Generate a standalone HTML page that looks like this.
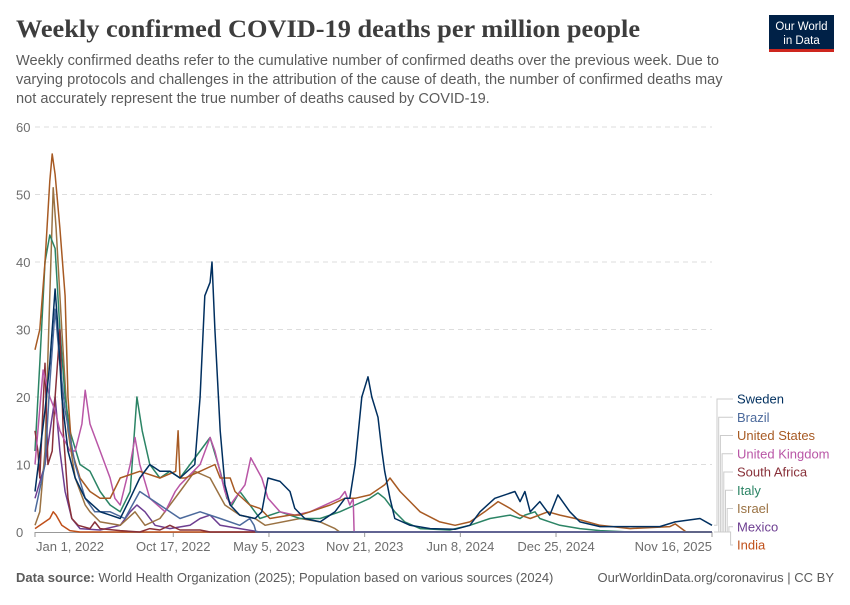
<!DOCTYPE html>
<html><head><meta charset="utf-8"><style>
body{margin:0;background:#fff;width:850px;height:600px;overflow:hidden;font-family:"Liberation Sans",sans-serif}
</style></head><body>
<svg id="c" width="850" height="600" viewBox="0 0 850 600" xmlns="http://www.w3.org/2000/svg">
<text x="16" y="37" font-family="Liberation Serif,serif" font-weight="bold" font-size="25" fill="#3d3d3d" textLength="624" lengthAdjust="spacingAndGlyphs">Weekly confirmed COVID-19 deaths per million people</text>
<g font-size="14.6" fill="#5b5b5b">
<text x="16" y="65">Weekly confirmed deaths refer to the cumulative number of confirmed deaths over the previous week. Due to</text>
<text x="16" y="84">varying protocols and challenges in the attribution of the cause of death, the number of confirmed deaths may</text>
<text x="16" y="103">not accurately represent the true number of deaths caused by COVID-19.</text>
</g>
<g><rect x="769" y="15" width="65" height="36" fill="#002147"/><rect x="769" y="49" width="65" height="3" fill="#ce261e"/>
<text x="801.5" y="30" text-anchor="middle" font-size="11.5" fill="#fff">Our World</text><text x="801.5" y="44" text-anchor="middle" font-size="11.5" fill="#fff">in Data</text></g>
<g id="grid"></g><g id="xaxis"></g><g id="series"></g><g id="legend"></g>
<text x="16" y="582" font-size="13" fill="#5b5b5b"><tspan font-weight="bold">Data source:</tspan> World Health Organization (2025); Population based on various sources (2024)</text>
<text x="834" y="582" text-anchor="end" font-size="13" fill="#5b5b5b">OurWorldinData.org/coronavirus | CC BY</text>
</svg>
<script>
const yTicks=[0,10,20,30,40,50,60];
const xTickDays=[0,289,489,689,889,1089,1415];
const xTickLabels=["Jan 1, 2022","Oct 17, 2022","May 5, 2023","Nov 21, 2023","Jun 8, 2024","Dec 25, 2024","Nov 16, 2025"];
const seriesNames=["India","Mexico","Israel","Italy","South Africa","United Kingdom","United States","Brazil","Sweden"];
const seriesColors=["#c0501a","#6d3e91","#9a7243","#2b8465","#883039","#b956a6","#a75a23","#4c6a9c","#002f5f"];
const indiaDays=[0,31,38,44,56,73,94,1415];
const indiaVals=[0.5,2,3,2.5,1,0.2,0,0];
const mexicoDays=[0,21,42,52,63,77,94,136,178,199,213,230,251,282,324,345,366,387,428,470,1415];
const mexicoVals=[5,10,20,12,6,2,0.5,0.3,1,3,4,3,1,0.5,1,2,2.5,1,0.5,0,0];
const israelDays=[0,10,21,31,38,44,56,69,84,105,115,136,178,209,230,261,303,334,366,397,428,460,481,554,596,627,637,1415];
const israelVals=[1,3,12,35,51,45,30,15,8,4,3,1.5,1,3,1,2,6,9,8,4,2.5,2,1,2,1.5,0.5,0,0];
const italyDays=[0,10,21,31,42,52,63,73,94,115,136,157,178,199,213,224,240,261,282,303,324,345,366,387,401,412,428,439,470,512,554,596,637,669,700,717,731,752,773,805,867,909,951,993,1014,1024,1045,1055,1076,1097,1139,1181,1244,1415];
const italyVals=[12,25,40,44,42,30,20,15,10,9,6,4,3,6,20,15,10,8,9,8,10,12,14,9,5,4,6,5,2,3,2,2,3,4,5,5.8,5,3,1.5,0.5,0.3,1,2,2.5,2,2.5,3,2,1.5,1,0.5,0.2,0,0];
const saDays=[0,6,10,21,27,36,42,52,59,69,77,90,115,125,136,178,219,240,261,282,303,345,366,1415];
const saVals=[15,12,8,25,10,12,20,30,15,5,2,1,0.5,1.5,0.5,0.2,0,0.5,0.3,1,0.3,0.3,0,0];
const ukDays=[0,17,31,42,52,73,84,98,105,115,136,157,167,178,199,209,219,240,272,293,303,345,366,376,397,408,439,451,474,487,512,543,575,637,648,658,665,667,1415];
const ukVals=[10,24,20,18,15,12,12,16,21,16,12,8,5,4,10,14,10,5,3,6,7,10,14,12,6,4,7,11,8,5,3,2.5,3,5,6,4,5,0,0];
const usDays=[0,10,21,31,36,42,52,63,69,77,94,115,136,157,178,219,261,294,299,303,314,345,376,387,408,418,449,470,491,533,554,575,617,648,669,700,731,742,763,784,805,846,878,909,940,968,993,1014,1035,1072,1097,1129,1181,1244,1327,1338,1361,1415];
const usVals=[27,30,40,52,56,53,45,35,20,12,8,6,5,5,8,9,8,9,15,8,8,9,10,8,8,6,4,3.5,2,2.5,2.5,3,4,5,5,5.5,7,8,6,4.5,3,1.5,1,1.5,3,4.5,3.5,2.5,2,3,2.5,2,1,0.5,0.8,1.2,0,0];
const brazilDays=[0,21,31,42,52,63,84,105,125,157,188,219,240,261,303,345,387,428,449,458,462,1415];
const brazilVals=[3,10,22,33,25,18,10,5,3,3,2,6,5,4,2,3,2,1,2,1,0,0];
const swedenDays=[0,21,31,42,48,56,69,84,105,136,157,178,199,219,240,261,282,303,334,345,355,366,370,376,387,397,408,428,460,474,487,512,533,543,564,596,627,648,658,669,683,696,704,717,725,731,742,752,784,826,878,909,930,961,1003,1014,1024,1035,1055,1076,1093,1118,1139,1181,1306,1338,1390,1415];
const swedenVals=[6,18,25,36,30,20,12,8,5,3,2.5,2,5,8,10,9,9,8,10,20,35,37,40,30,15,7,4,2.5,2,3,8,7.5,6,3.5,2,1.5,3,5,5,10,20,23,20,17,12,9,5,2,1,0.5,0.4,1,3,5,6,4.5,6,3,4.5,2.5,5.5,3,1.5,0.8,0.8,1.5,2,1];
const allDays=[indiaDays,mexicoDays,israelDays,italyDays,saDays,ukDays,usDays,brazilDays,swedenDays];
const allVals=[indiaVals,mexicoVals,israelVals,italyVals,saVals,ukVals,usVals,brazilVals,swedenVals];
const legendOrder=["Sweden","Brazil","United States","United Kingdom","South Africa","Italy","Israel","Mexico","India"];

const X0=35,X1=712,Y0=532,Y1=127;
const xs=d=>X0+(d-0)/(1415-0)*(X1-X0);
const ys=v=>Y0-(v/60)*(Y0-Y1);
const NS="http://www.w3.org/2000/svg";
function mk(t,a,p){const e=document.createElementNS(NS,t);for(const k in a)e.setAttribute(k,a[k]);p.appendChild(e);return e;}
const grid=document.getElementById('grid');
yTicks.forEach(v=>{
  if(v>0){const l=mk('line',{x1:X0,x2:X1,y1:ys(v),y2:ys(v),stroke:'#dddddd','stroke-dasharray':'5,4'},grid);
  
  }
  const t=mk('text',{x:16,y:ys(v)+5,'font-size':13,fill:'#6e6e6e'},grid);
  t.textContent=v;
  
  
});
const xa=document.getElementById('xaxis');
const ax=mk('line',{x1:X0,x2:X1,y1:Y0+0.5,y2:Y0+0.5,stroke:'#999'},xa);


xTickDays.forEach((d,i)=>{
  const tk=mk('line',{x1:xs(d),x2:xs(d),y1:Y0,y2:Y0+5,stroke:'#999'},xa);
  
  
  const anchor=i==0?'start':(i==xTickDays.length-1?'end':'middle');
  const t=mk('text',{x:i==0?xs(d)+1:xs(d),y:551,'font-size':13,fill:'#6e6e6e','text-anchor':anchor},xa);
  t.textContent=xTickLabels[i];
  
  
});
const sg=document.getElementById('series');
seriesNames.forEach((n,i)=>{
  const pts=allDays[i].map((d,j)=>xs(d).toFixed(1)+','+ys(allVals[i][j]).toFixed(1)).join(' ');
  const p=mk('polyline',{points:pts,fill:'none',stroke:seriesColors[i],'stroke-width':1.5,'stroke-linejoin':'round'},sg);
  
  
});
const lg=document.getElementById('legend');
legendOrder.forEach((n,k)=>{
  const i=seriesNames.indexOf(n);
  const vals=allVals[i];
  const ly=399+k*18.25;
  const yEnd=ys(vals[vals.length-1]);
  const bx=717+k*1.7;
  const ln=mk('polyline',{points:`${X1+2},${yEnd} ${bx},${yEnd} ${bx},${ly} 733,${ly}`,fill:'none',stroke:'#ccc','stroke-width':1},lg);
  
  
  const t=mk('text',{x:737,y:ly+4.5,'font-size':13,fill:seriesColors[i]},lg);
  t.textContent=n;
  
  
});
</script>
</body></html>
